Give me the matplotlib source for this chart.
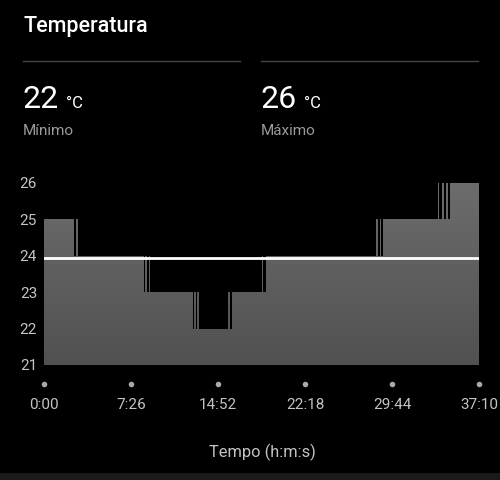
import numpy as np
import matplotlib.pyplot as plt

plt.rcParams['font.family'] = ['Roboto', 'DejaVu Sans']

# step change points (seconds from start) and the temperature from that point on
change_secs = [0, 154, 164, 172, 513, 520, 530, 537, 545, 765, 770, 780, 785, 795,
               943, 955, 962, 1118, 1125, 1138, 1702, 1710, 1722, 1730, 1738,
               2020, 2025, 2040, 2050, 2062, 2070, 2080, 2230]
temps = [25, 24, 25, 24, 23, 24, 23, 24, 23, 22, 23, 22, 23, 22,
         23, 22, 23, 24, 23, 24, 25, 24, 25, 24, 25,
         26, 25, 26, 25, 26, 25, 26, 26]

tick_secs = [0, 446, 892, 1338, 1784, 2230]
tick_labels = ['0:00', '7:26', '14:52', '22:18', '29:44', '37:10']
y_ticks = [21, 22, 23, 24, 25, 26]
avg_temp = 23.93
min_temp = 22
max_temp = 26

fig = plt.figure(figsize=(5, 4.8), dpi=100, facecolor='black')

# header
fig.text(23/500, 1 - 32/480, 'Temperatura', color='white', fontsize=15.5,
         fontweight='medium', ha='left', va='baseline')
fig.add_artist(plt.Line2D([23/500, 240/500], [1 - 61/480] * 2, color='#444444', lw=1))
fig.add_artist(plt.Line2D([261/500, 478/500], [1 - 61/480] * 2, color='#444444', lw=1))

for x0, val, lab in [(23, min_temp, 'Mínimo'), (261, max_temp, 'Máximo')]:
    fig.text(x0/500, 1 - 108/480, str(val), color='white', fontsize=23,
             ha='left', va='baseline')
    fig.text((x0 + 43)/500, 1 - 108/480, '°C', color='white', fontsize=12,
             ha='left', va='baseline')
    fig.text(x0/500, 1 - 135/480, lab, color='#9a9a9a', fontsize=11,
             ha='left', va='baseline')

ax = fig.add_axes([44/500, 1 - 365/480, 435/500, 182/480])
ax.set_facecolor('black')
ax.set_xlim(0, 2230)
ax.set_ylim(21, 26)

poly = ax.fill_between(change_secs, temps, 21, step='post', color='#626262', lw=0)
grad = np.linspace(0, 1, 100).reshape(-1, 1)
img = ax.imshow(grad, extent=[0, 2230, 21, 26], aspect='auto', origin='lower',
                cmap=plt.matplotlib.colors.LinearSegmentedColormap.from_list(
                    'g', ['#515151', '#6c6c6c']), zorder=2)
path = poly.get_paths()[0]
img.set_clip_path(path, transform=ax.transData)

ax.axhline(avg_temp, color='white', lw=2, zorder=3)

ax.scatter(tick_secs, [20.47] * len(tick_secs), s=16, color='#aaaaaa',
           clip_on=False, lw=0, zorder=4)

ax.set_yticks(y_ticks)
ax.set_yticklabels([str(v) for v in y_ticks], color='#c4c4c4', fontsize=11)
ax.set_xticks(tick_secs)
ax.set_xticklabels(tick_labels, color='#c4c4c4', fontsize=11)
ax.tick_params(axis='y', length=0, pad=5)
ax.tick_params(axis='x', length=0, pad=24)
for s in ax.spines.values():
    s.set_visible(False)

fig.text(262/500, 1 - 452/480, 'Tempo (h:m:s)', color='#c4c4c4', fontsize=11.8,
         ha='center', va='center')

fig.add_artist(plt.Rectangle((0, 0), 1, 7/480, color='#1a1a1a', lw=0))

fig.savefig('out.png', dpi=100, facecolor='black')
